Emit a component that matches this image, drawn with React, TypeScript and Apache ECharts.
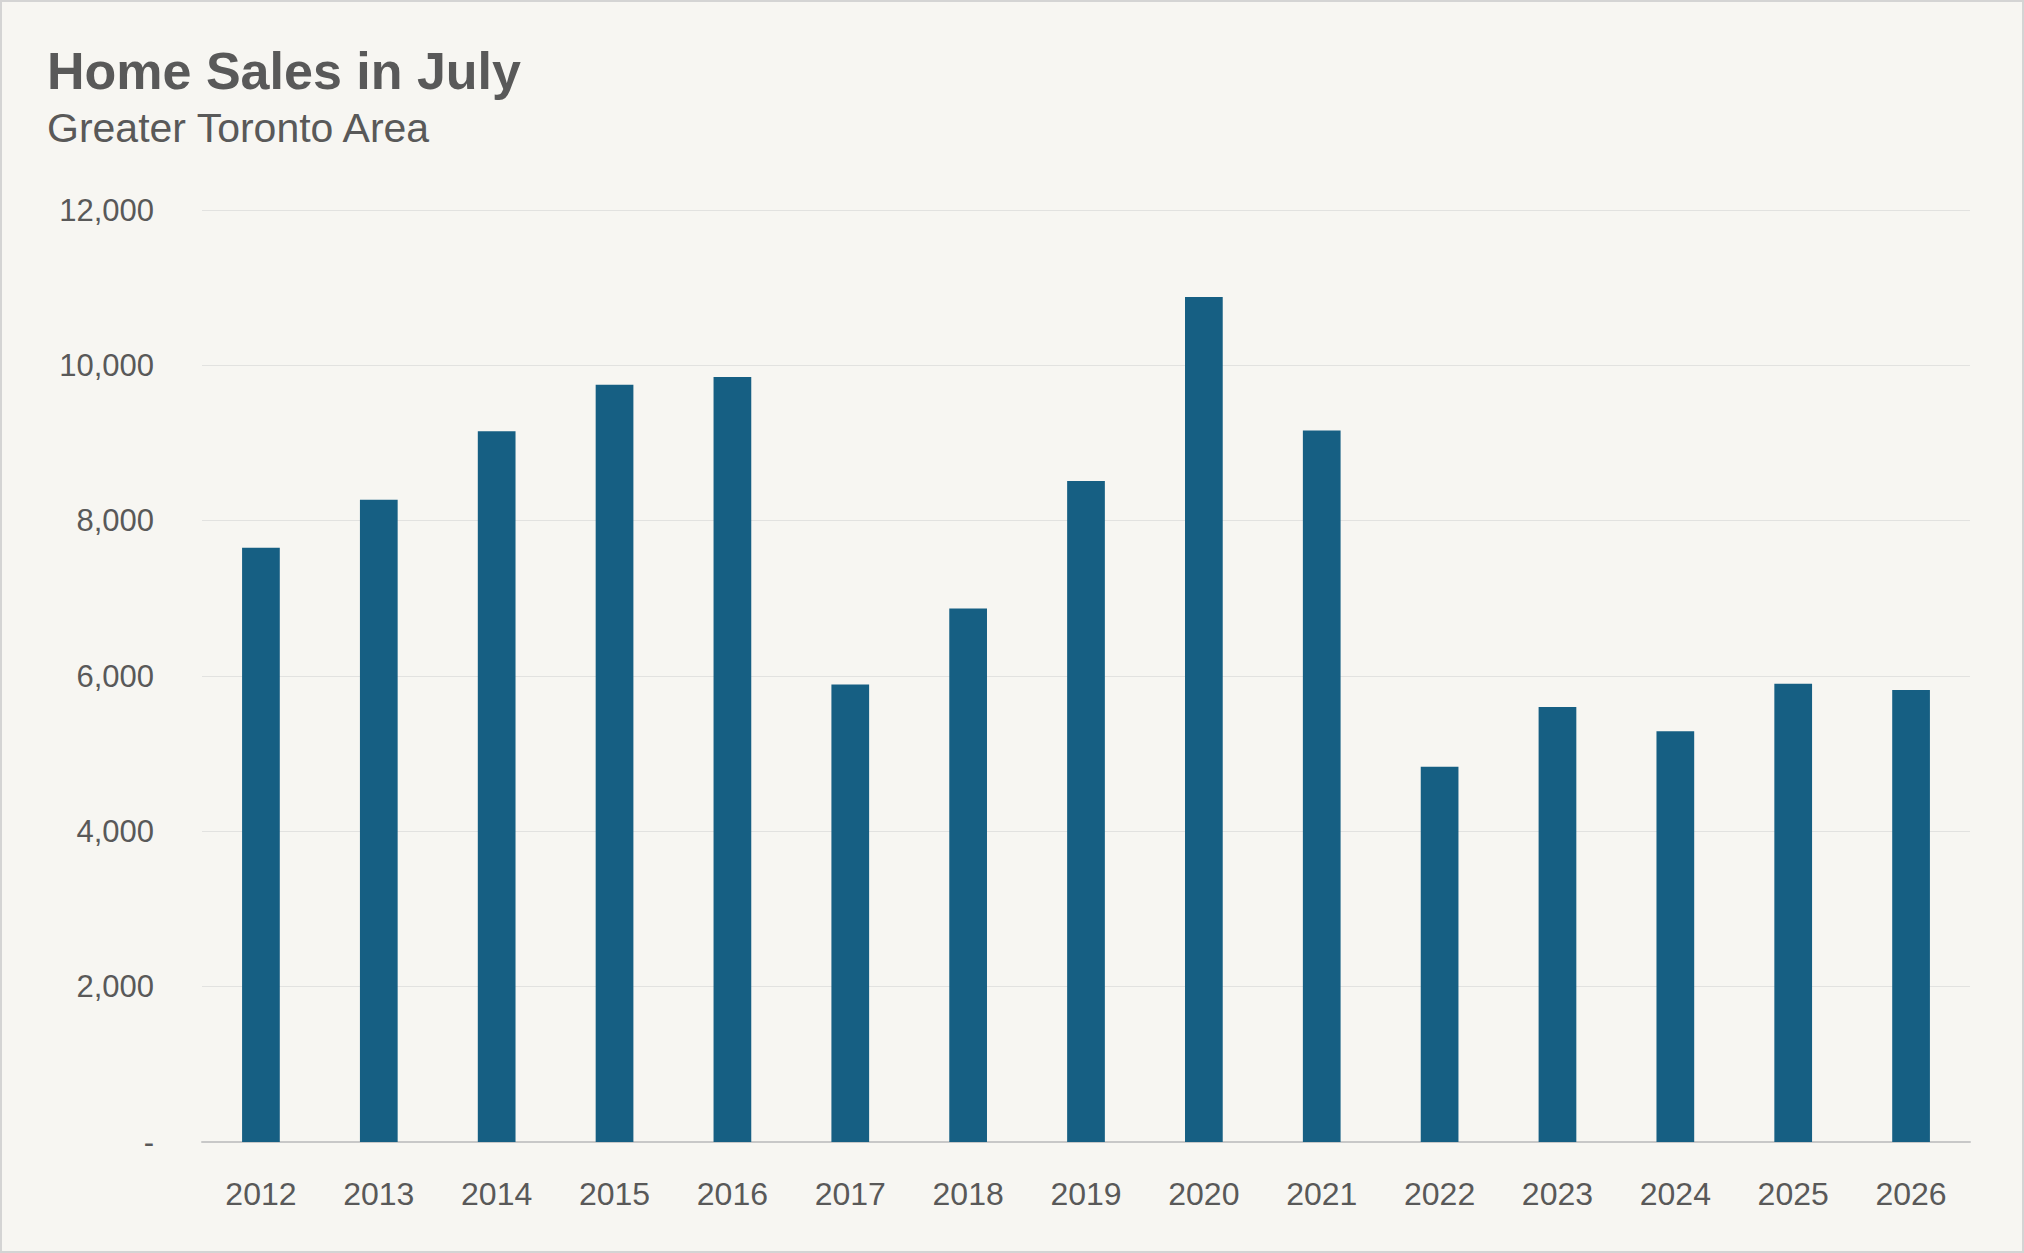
import React, { useEffect, useRef } from "react";
import * as echarts from "echarts";

const years = ["2012","2013","2014","2015","2016","2017","2018","2019","2020","2021","2022","2023","2024","2025","2026"];
const sales = [7650, 8270, 9150, 9750, 9850, 5890, 6870, 8510, 10880, 9160, 4830, 5600, 5290, 5900, 5820];

export default function App() {
  const ref = useRef<HTMLDivElement>(null);
  useEffect(() => {
    const chart = echarts.init(ref.current!, null, { renderer: "svg" });
    chart.setOption({
      animation: false,
      backgroundColor: "#F7F6F2",
      title: {
        text: "Home Sales in July",
        subtext: "Greater Toronto Area",
        left: 40, top: 38,
        itemGap: 10,
        textStyle: { fontFamily: "Liberation Sans", fontSize: 52, fontWeight: "bold", color: "#595959" },
        subtextStyle: { fontFamily: "Liberation Sans", fontSize: 41, color: "#595959" },
      },
      grid: { left: 200, right: 52, top: 208, bottom: 109 },
      xAxis: {
        type: "category", data: years,
        axisTick: { show: false },
        axisLine: { lineStyle: { color: "#C8C8C8", width: 2 } },
        axisLabel: { fontFamily: "Liberation Sans", fontSize: 32, color: "#595959", margin: 36 },
      },
      yAxis: {
        type: "value", min: 0, max: 12000, interval: 2000,
        axisLabel: {
          fontFamily: "Liberation Sans", fontSize: 31, color: "#595959", margin: 48,
          formatter: (v: number) => (v === 0 ? "-" : v.toLocaleString("en-US")),
        },
        splitLine: { lineStyle: { color: "#E2E2E0", width: 1 } },
      },
      series: [{ type: "bar", data: sales, barWidth: "32%", itemStyle: { color: "#165F83" } }],
    });
    return () => chart.dispose();
  }, []);
  return (
    <div style={{ position: "fixed", left: 0, top: 0, width: 2024, height: 1253, boxSizing: "border-box", border: "2px solid #D4D4D4" }}>
      <div ref={ref} style={{ width: "100%", height: "100%" }} />
    </div>
  );
}
